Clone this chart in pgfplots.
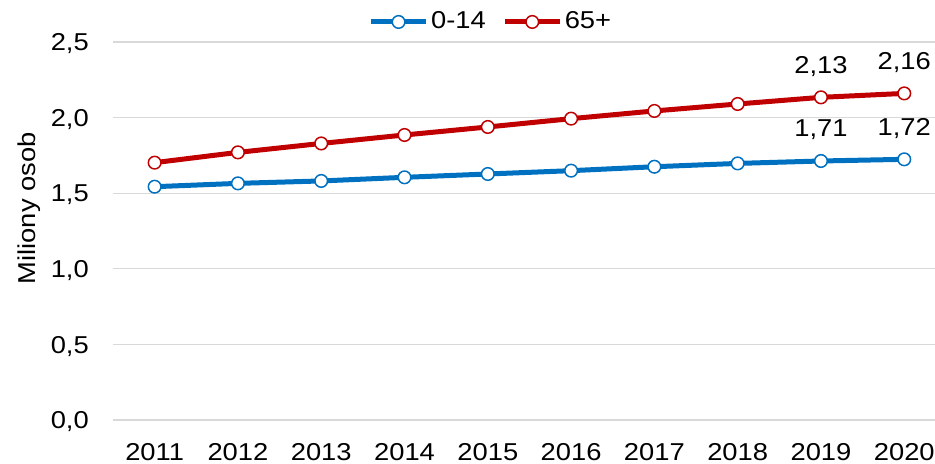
\documentclass[border=0pt]{standalone}
\usepackage{fontspec}
\setmainfont{Liberation Sans}[FakeStretch=1.12]
\usepackage{pgfplots}
\pgfplotsset{compat=1.18}
\definecolor{cblue}{HTML}{0070C0}
\definecolor{cred}{HTML}{C00000}
\definecolor{cgrid}{HTML}{D9D9D9}
\begin{document}
\fontsize{24.5}{29}\selectfont
\begin{tikzpicture}
\useasboundingbox (-113bp,-44bp) rectangle (822bp,420bp);
\begin{axis}[
  at={(0,0)}, anchor=south west,
  scale only axis, width=822bp, height=378bp,
  xmin=2010.5, xmax=2020.369, ymin=0, ymax=2.5,
  xtick={2011,2012,2013,2014,2015,2016,2017,2018,2019,2020},
  xticklabels={2011,2012,2013,2014,2015,2016,2017,2018,2019,2020},
  ytick={0,0.5,1,1.5,2,2.5},
  yticklabels={{0,0},{0,5},{1,0},{1,5},{2,0},{2,5}},
  axis line style={draw=none},
  major tick length=0pt,
  ymajorgrids, grid style={cgrid, line width=1.3bp},
  yticklabel style={anchor=base east, inner sep=0pt, xshift=-24bp, yshift=-8.8bp},
  xticklabel style={anchor=base, inner sep=0pt, yshift=-40.7bp},
  ylabel={Miliony osob},
  every axis y label/.style={at={(axis description cs:-0.0937,0.56)}, rotate=90, anchor=base},
  legend style={at={(axis description cs:0.46,1.053)}, anchor=center, draw=none, fill=none,
    legend columns=2, inner sep=0pt,
    nodes={inner sep=2.5bp},
    /tikz/every even column/.append style={column sep=14bp}},
  legend image code/.code={\draw[mark repeat=2,mark phase=2,#1] plot coordinates {(0bp,0bp) (27.5bp,0bp) (55bp,0bp)};},
  clip=false,
]
\addplot[cblue, line width=5bp, mark=*, mark size=6.3bp, mark options={fill=white, draw=cblue, line width=1.5bp}]
  coordinates {(2011,1.543) (2012,1.565) (2013,1.581) (2014,1.605) (2015,1.627) (2016,1.649) (2017,1.675) (2018,1.697) (2019,1.713) (2020,1.724)};
\addlegendentry{0-14}
\addplot[cred, line width=5bp, mark=*, mark size=6.3bp, mark options={fill=white, draw=cred, line width=1.5bp}]
  coordinates {(2011,1.702) (2012,1.770) (2013,1.829) (2014,1.885) (2015,1.938) (2016,1.993) (2017,2.044) (2018,2.090) (2019,2.134) (2020,2.160)};
\addlegendentry{65+}
\addplot[forget plot, draw=none, mark=none, nodes near coords, point meta=explicit symbolic,
  nodes near coords style={anchor=base, inner sep=0pt, yshift=24bp, text=black}]
  coordinates {(2019,2.134)[2,13] (2020,2.160)[2,16]};
\addplot[forget plot, draw=none, mark=none, nodes near coords, point meta=explicit symbolic,
  nodes near coords style={anchor=base, inner sep=0pt, yshift=24bp, text=black}]
  coordinates {(2019,1.713)[1,71] (2020,1.724)[1,72]};
\end{axis}
\end{tikzpicture}
\end{document}
